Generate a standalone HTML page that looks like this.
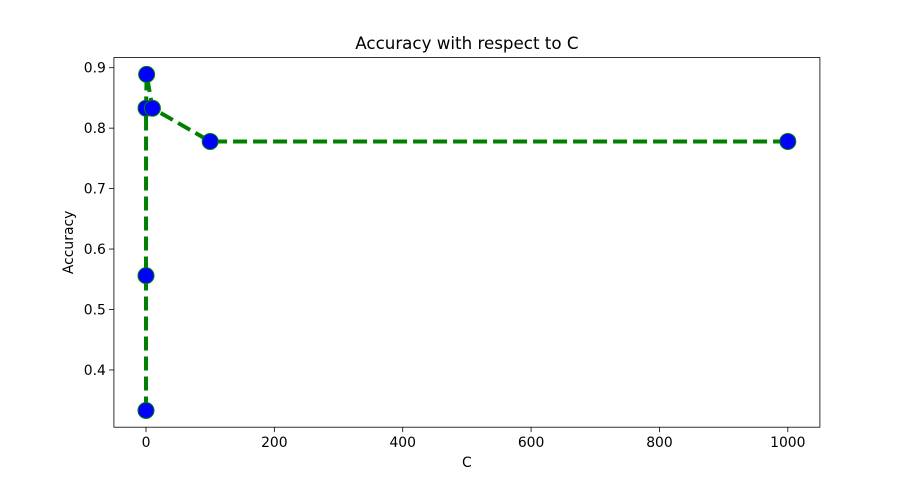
<!DOCTYPE html>
<html><head><meta charset="utf-8"><style>
body{margin:0;background:#fff;}
svg text{font-family:"DejaVu Sans","Liberation Sans",sans-serif;fill:#000;}
</style></head><body>
<svg id="chart" width="911" height="480" xmlns="http://www.w3.org/2000/svg">
<rect x="0" y="0" width="911" height="480" fill="#fff"/>
<g id="plot"></g>
</svg>
<script>
const cValues=[0.001,0.01,0.1,1,10,100,1000];
const accuracy=[0.333,0.556,0.833,0.889,0.833,0.778,0.778];
const xTicks=[0,200,400,600,800,1000];
const yTicks=[0.4,0.5,0.6,0.7,0.8,0.9];

const L=113.9,R=819.9,T=57.6,B=427.2;
const xmin=-50,xmax=1050;
const ymin=0.3053,ymax=0.9167;
const xs=v=>L+(v-xmin)/(xmax-xmin)*(R-L);
const ys=v=>B-(v-ymin)/(ymax-ymin)*(B-T);
const NS="http://www.w3.org/2000/svg";
const g=document.getElementById('plot');
function mk(tag,attrs,parent){const e=document.createElementNS(NS,tag);for(const k in attrs)e.setAttribute(k,attrs[k]);(parent||g).appendChild(e);return e;}

const pts=cValues.map((c,i)=>xs(c)+','+ys(accuracy[i])).join(' ');
const line=mk('polyline',{points:pts,fill:'none',stroke:'#008000','stroke-width':4,'stroke-dasharray':'14,6','stroke-linejoin':'round'});


cValues.forEach((c,i)=>{
  const p=mk('circle',{cx:xs(c),cy:ys(accuracy[i]),r:8,fill:'#0000ff',stroke:'#008000','stroke-width':1});
  
  
});
const fr=mk('rect',{x:L,y:T,width:R-L,height:B-T,fill:'none',stroke:'#000','stroke-width':0.8});


xTicks.forEach(t=>{
  const x=xs(t);
  mk('line',{x1:x,y1:B,x2:x,y2:B+4.9,stroke:'#000','stroke-width':0.8});
  const tx=mk('text',{x:x,y:B+20,'text-anchor':'middle','font-size':'13.9px'});
  tx.textContent=t;
  
  
});
yTicks.forEach(t=>{
  const y=ys(t);
  mk('line',{x1:L,y1:y,x2:L-4.9,y2:y,stroke:'#000','stroke-width':0.8});
  const tx=mk('text',{x:L-8,y:y+5,'text-anchor':'end','font-size':'13.9px'});
  tx.textContent=t.toFixed(1);
  
  
});
const xt=mk('text',{x:(L+R)/2,y:467,'text-anchor':'middle','font-size':'13.9px'});
xt.textContent='C';


const yt=mk('text',{x:0,y:0,'text-anchor':'middle','font-size':'13.9px',transform:`translate(73,${(T+B)/2}) rotate(-90)`});
yt.textContent='Accuracy';


const ti=mk('text',{x:(L+R)/2,y:49,'text-anchor':'middle','font-size':'16.7px'});
ti.textContent='Accuracy with respect to C';


</script>
</body></html>
